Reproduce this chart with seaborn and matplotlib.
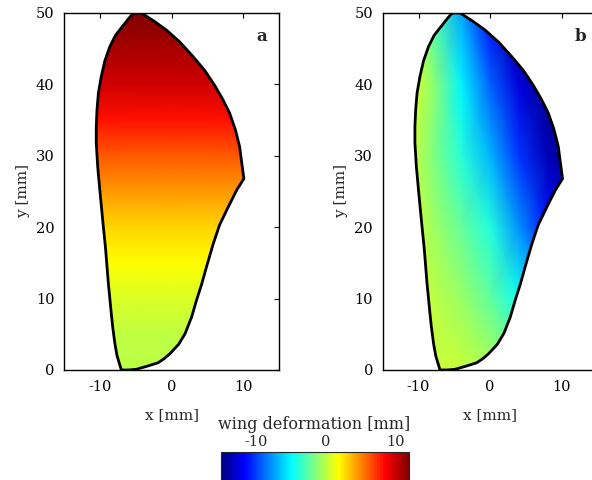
import numpy as np
import matplotlib
matplotlib.use("Agg")
import matplotlib.pyplot as plt
import seaborn as sns
from matplotlib.patches import Polygon
from matplotlib.colors import LinearSegmentedColormap

sns.set_style("white")
plt.rcParams["font.family"] = ["DejaVu Serif", "DejaVu Sans"]
plt.rcParams["axes.unicode_minus"] = False

# Wing outline [mm], clockwise from the tip
outline_x = [-5.3, -4.2, -2.5, -0.7, 1.2, 3.0, 4.6, 6.0, 7.1, 8.1, 8.9, 9.5,
             9.8, 10.1, 9.6, 9.1, 7.9, 6.7, 5.8, 4.9, 4.2, 3.5, 2.8, 1.9,
             1.0, -0.2, -1.0, -1.9, -3.5, -4.9, -6.0, -7.0, -7.6, -7.9, -8.2,
             -8.4, -8.8, -9.2, -9.6, -10.0, -10.3, -10.5, -10.5, -10.4, -10.2,
             -9.8, -9.3, -8.6, -7.8, -6.7, -6.0]
outline_y = [50.0, 50.0, 48.9, 47.6, 45.9, 43.9, 42.0, 39.9, 38.0, 36.0, 33.7,
             31.3, 29.0, 26.8, 26.0, 25.2, 22.8, 20.3, 17.6, 14.5, 12.0, 9.8,
             7.4, 5.1, 3.6, 2.3, 1.6, 1.0, 0.5, 0.1, 0.0, 0.0, 2.0, 3.7, 6.0,
             7.9, 12.0, 17.0, 21.0, 25.2, 28.5, 31.8, 34.0, 36.4, 38.8, 41.1,
             43.3, 45.3, 46.9, 48.3, 49.2]

# Sample grid [mm]
grid_x = [-12, -8, -4, 0, 4, 8, 12]
grid_y = [0, 10, 20, 30, 40, 50]

# (a) deformation along the span [mm]
span_y = [0, 5, 10, 15, 20, 25, 30, 35, 40, 45, 50]
deform_a = [0.0, 0.1, 0.9, 1.9, 3.0, 4.6, 6.3, 8.2, 9.8, 10.9, 12.0]

# (b) deformation on the grid [mm], one row per grid_y value
deform_b = [
    [0.8, 0.5, 0.3, -0.3, -1.2, -2.2, -3.2],
    [0.9, 0.1, -0.8, -2.3, -4.5, -7.0, -9.5],
    [0.8, -0.6, -2.2, -4.0, -7.8, -11.0, -13.0],
    [1.1, -1.4, -3.9, -6.8, -10.2, -13.5, -15.0],
    [1.5, -1.0, -5.1, -9.0, -12.5, -14.5, -15.0],
    [1.7, -2.7, -7.1, -11.5, -15.0, -15.0, -15.0],
]

vmin, vmax = -15, 12
cbar_ticks = [-10, 0, 10]

# classic jet anchors
jet_pos = [0.0, 0.125, 0.375, 0.625, 0.875, 1.0]
jet_rgb = [(0, 0, 0.5), (0, 0, 1), (0, 1, 1), (1, 1, 0), (1, 0, 0), (0.5, 0, 0)]
jet = LinearSegmentedColormap.from_list("jet_classic", list(zip(jet_pos, jet_rgb)))

fig = plt.figure(figsize=(5.92, 4.8), dpi=100)
ax_a = fig.add_axes([0.1081, 0.2292, 0.3632, 0.74375])
ax_b = fig.add_axes([0.6464, 0.2292, 0.3632, 0.74375])
cax = fig.add_axes([0.3733, -0.002, 0.3176, 0.0604])

verts = np.column_stack([outline_x, outline_y])
ring_x = list(outline_x) + [outline_x[0]]
ring_y = list(outline_y) + [outline_y[0]]

# panel a: field varies with y only
Xa, Ya = np.meshgrid([-12, 12], span_y)
Va = np.column_stack([deform_a, deform_a])
# panel b: field on full grid
Xb, Yb = np.meshgrid(grid_x, grid_y)
Vb = np.array(deform_b)

mesh = None
for ax, X, Y, V, tag in [(ax_a, Xa, Ya, Va, "a"), (ax_b, Xb, Yb, Vb, "b")]:
    mesh = ax.pcolormesh(X, Y, V, shading="gouraud", cmap=jet,
                         vmin=vmin, vmax=vmax, rasterized=True)
    clip = Polygon(verts, closed=True, transform=ax.transData,
                   facecolor="none", edgecolor="none")
    ax.add_patch(clip)
    mesh.set_clip_path(clip)
    sns.lineplot(x=ring_x, y=ring_y, sort=False, estimator=None, ax=ax,
                 color="black", linewidth=2.0, zorder=5)
    ax.set_xlim(-15, 15)
    ax.set_ylim(0, 50)
    ax.set_xticks([-10, 0, 10])
    ax.set_yticks([0, 10, 20, 30, 40, 50])
    ax.tick_params(direction="in", length=3.5, width=0.8, top=True,
                   right=True, labelsize=10.5, pad=7, colors="black")
    for s in ax.spines.values():
        s.set_visible(True)
        s.set_color("black")
        s.set_linewidth(1.0)
    ax.set_xlabel("x [mm]", fontsize=11)
    ax.set_ylabel("y [mm]", fontsize=11)
    ax.xaxis.set_label_coords(0.5, -0.106)
    ax.yaxis.set_label_coords(-0.16, 0.5)
    ax.text(0.92, 0.935, tag, transform=ax.transAxes, fontsize=12,
            fontweight="bold", ha="center", va="center")

cb = fig.colorbar(mesh, cax=cax, orientation="horizontal", ticks=cbar_ticks)
cb.outline.set_linewidth(0.8)
cax.tick_params(direction="in", length=3, width=0.8, top=True, bottom=True,
                labeltop=True, labelbottom=False, labelsize=10.5, pad=2)
fig.text(314 / 592, 1 - 416 / 480, "wing deformation [mm]", fontsize=11.5,
         ha="center", va="top")

fig.savefig("out.png", dpi=100)
